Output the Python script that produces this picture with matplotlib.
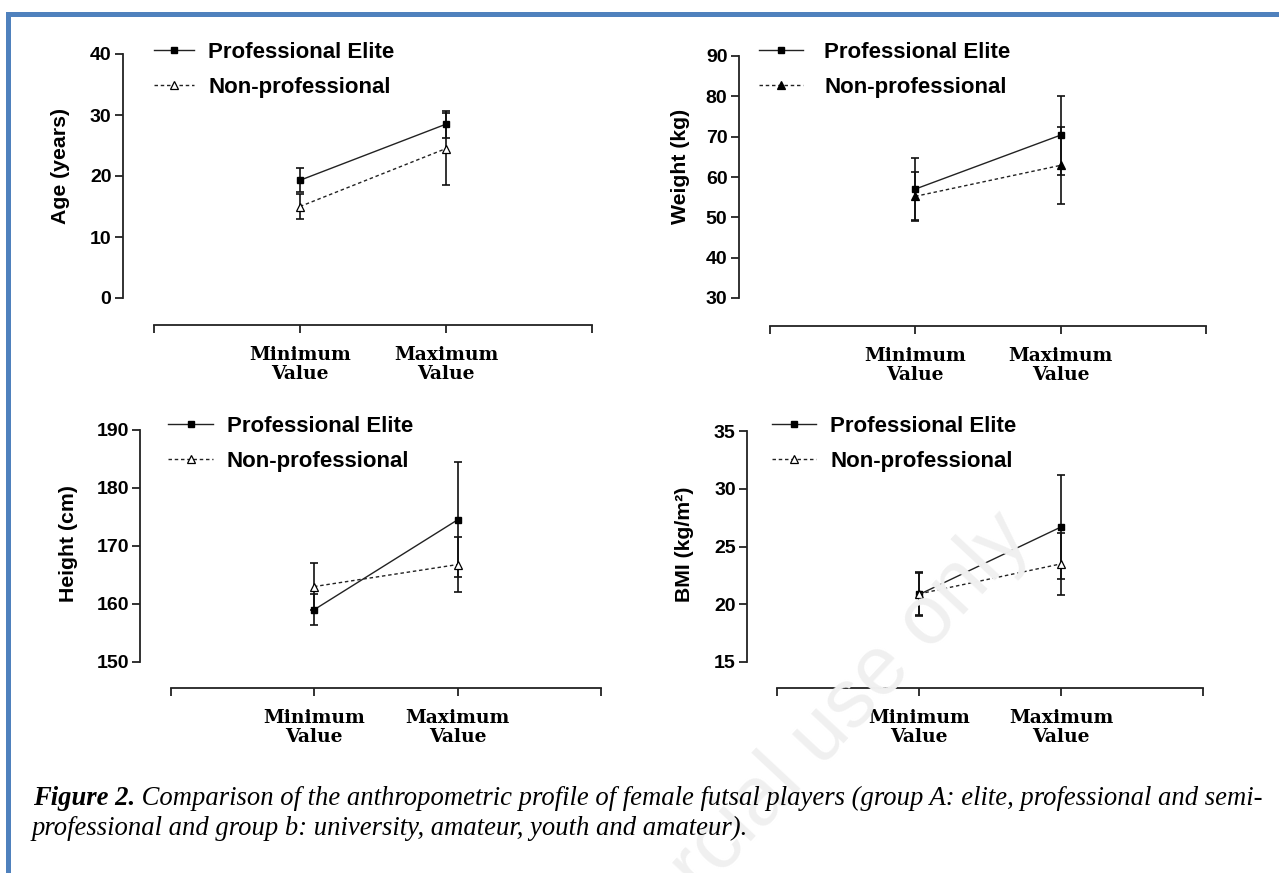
import matplotlib
matplotlib.use("Agg")
import matplotlib.pyplot as plt
from matplotlib.patches import Rectangle

W, H = 1279, 873

categories = ["Minimum\nValue", "Maximum\nValue"]
series = ["Professional Elite", "Non-professional"]

# mean and SD
age_pro = [19.3, 28.5]
age_pro_sd = [2.0, 2.2]
age_non = [15.0, 24.5]
age_non_sd = [2.0, 5.9]

weight_pro = [57.0, 70.4]
weight_pro_sd = [7.7, 9.8]
weight_non = [55.2, 62.9]
weight_non_sd = [6.0, 9.6]

height_pro = [159.0, 174.5]
height_pro_sd = [2.7, 9.9]
height_non = [163.0, 166.8]
height_non_sd = [4.1, 4.8]

bmi_pro = [20.85, 26.7]
bmi_pro_sd = [1.9, 4.5]
bmi_non = [20.9, 23.5]
bmi_non_sd = [1.8, 2.7]

caption_bold = "Figure 2."
caption_rest = (" Comparison of the anthropometric profile of female futsal players "
                "(group A: elite, professional and semi-")
caption_line2 = "professional and group b: university, amateur, youth and amateur)."

SANS = "Liberation Sans"
SERIF = "Liberation Serif"

fig = plt.figure(figsize=(W / 100, H / 100), dpi=100)


def px2pt(p):
    return p * 72 / 100


def panel(x0, x1, yspine, ytop_px, ybot_px, xaxis_px, ylo, yhi, ystep,
          ylabel, ylab_x, ylab_y, pro, pro_sd, non, non_sd, non_filled,
          leg_x, leg_y, handlelen, textpad):
    scale = (ybot_px - ytop_px) / (yhi - ylo)
    ax = fig.add_axes([x0 / W, 1 - xaxis_px / H, (x1 - x0) / W, (xaxis_px - ytop_px) / H])
    ax.set_facecolor("none")
    ax.set_xlim(0, 3)
    ax.set_ylim(ylo - (xaxis_px - ybot_px) / scale, yhi)

    for s in ["top", "right"]:
        ax.spines[s].set_visible(False)
    ax.spines["left"].set_position(("outward", px2pt(x0 - yspine)))
    ax.spines["left"].set_bounds(ylo, yhi)
    for s in ["left", "bottom"]:
        ax.spines[s].set_linewidth(1.3)
        ax.spines[s].set_color("#222222")

    ax.set_yticks(list(range(ylo, yhi + 1, ystep)))
    ax.set_xticks([0, 1, 2, 3])
    ax.set_xticklabels([""] + categories + [""])
    ax.tick_params(axis="y", direction="out", length=5.5, width=1.3, pad=2.5, color="#222222")
    ax.tick_params(axis="x", direction="out", length=5.8, width=1.3, pad=9, color="#222222")
    for t in ax.get_yticklabels():
        t.set_fontfamily(SANS)
        t.set_fontweight("bold")
        t.set_fontsize(14)
    for t in ax.get_xticklabels():
        t.set_fontfamily("DejaVu Serif")
        t.set_fontweight("bold")
        t.set_fontsize(13.5)
        t.set_linespacing(1.12)

    ax.set_ylabel(ylabel, fontfamily=SANS, fontweight="bold", fontsize=15.3, va="center")
    ax.yaxis.set_label_coords(ylab_x / W, 1 - ylab_y / H, transform=fig.transFigure)

    x = [1, 2]
    h1, = ax.plot(x, pro, color="#222222", lw=1.0, marker="s", ms=5,
                  mfc="black", mec="black", zorder=4)
    h2, = ax.plot(x, non, color="#222222", lw=1.0, ls=(0, (2.5, 2)), marker="^", ms=5.5,
                  mfc="black" if non_filled else "white", mec="black", mew=0.9, zorder=4)
    ax.errorbar(x, pro, yerr=pro_sd, fmt="none", ecolor="#111111", elinewidth=1.2,
                capsize=2.6, capthick=1.2, zorder=3)
    ax.errorbar(x, non, yerr=non_sd, fmt="none", ecolor="#111111", elinewidth=1.2,
                capsize=2.6, capthick=1.2, zorder=3)

    fs = 16
    fpx = fs * 100 / 72
    ax.legend([h1, h2], series, loc="upper left",
              bbox_to_anchor=(leg_x / W, 1 - leg_y / H), bbox_transform=fig.transFigure,
              frameon=False, borderpad=0, borderaxespad=0,
              handlelength=handlelen / fpx, handletextpad=textpad / fpx,
              labelspacing=0.62, prop={"family": SANS, "weight": "bold", "size": fs})
    return ax


panel(154, 592, 122.5, 54, 298, 325, 0, 40, 10, "Age (years)", 60, 166,
      age_pro, age_pro_sd, age_non, age_non_sd, False, 154, 42, 40, 14)
panel(769.6, 1206.4, 738.6, 56, 298, 326, 30, 90, 10, "Weight (kg)", 681, 166,
      weight_pro, weight_pro_sd, weight_non, weight_non_sd, True, 759, 42, 44, 21)
panel(170.5, 601, 140, 430, 662, 688, 150, 190, 10, "Height (cm)", 69, 544,
      height_pro, height_pro_sd, height_non, height_non_sd, False, 168, 416, 45, 14)
panel(777.3, 1203.2, 746.8, 431, 662, 688, 15, 35, 5, "BMI (kg/m²)", 685, 544,
      bmi_pro, bmi_pro_sd, bmi_non, bmi_non_sd, False, 772, 416, 44, 14)

# faint watermark
fig.text(1033 / W, 1 - 540 / H, "Non-commercial use only", fontsize=60, family=SANS,
         color="#f0f0f0", rotation=47, rotation_mode="anchor", ha="right", va="baseline",
         zorder=0)

# page frame
fig.patches.append(Rectangle((6 / W, 1 - 17 / H), 1, 5 / H, transform=fig.transFigure,
                             color="#4f81bd", lw=0))
fig.patches.append(Rectangle((6 / W, 0), 5 / W, 1 - 12 / H, transform=fig.transFigure,
                             color="#4f81bd", lw=0))

# caption
cs = 19.2
t1 = fig.text(33 / W, 1 - 805 / H, caption_bold, family=SERIF, style="italic",
              weight="bold", fontsize=cs, va="baseline")
fig.canvas.draw()
bb = t1.get_window_extent()
fig.text(bb.x1 / W, 1 - 805 / H, caption_rest, family=SERIF, style="italic",
         fontsize=cs, va="baseline")
fig.text(32 / W, 1 - 835 / H, caption_line2, family=SERIF, style="italic",
         fontsize=cs, va="baseline")

fig.savefig("out.png", dpi=100)
